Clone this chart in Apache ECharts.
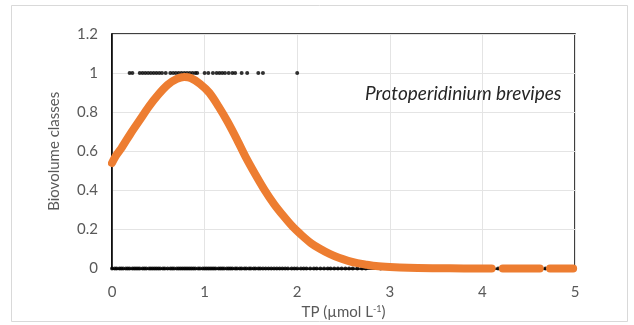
<!DOCTYPE html>
<html>
<head>
<meta charset="utf-8">
<title>Protoperidinium brevipes</title>
<script src="https://cdn.jsdelivr.net/npm/echarts@6/dist/echarts.min.js"></script>
<style>
    html, body { margin: 0; padding: 0; background: #fff; }
    .box { width: 634px; height: 325px; }
</style>
</head>
<body>
<div class="box"></div>
<script>
// observed TP values with biovolume class 1
const presentX = [0.19, 0.22, 0.30, 0.33, 0.36, 0.39, 0.42, 0.45, 0.48, 0.51, 0.54, 0.58,
    0.63, 0.66, 0.69, 0.72, 0.75, 0.78, 0.81, 0.84, 0.87, 0.90, 0.92, 1.00, 1.04,
    1.09, 1.13, 1.16, 1.19, 1.22, 1.26, 1.30, 1.33, 1.40, 1.46, 1.58, 1.63, 2.00];

// observed TP values with biovolume class 0
const absentX = [0, 0.03, 0.05, 0.08, 0.10, 0.12, 0.15, 0.17, 0.19, 0.22, 0.24, 0.26, 0.28,
    0.30, 0.33, 0.35, 0.37, 0.40, 0.42, 0.44, 0.46, 0.48, 0.50, 0.52, 0.55, 0.57, 0.60,
    0.63, 0.65, 0.67, 0.70, 0.72, 0.74, 0.76, 0.78, 0.80, 0.82, 0.84, 0.86, 0.88, 0.90,
    0.93, 0.95, 0.98, 1.00, 1.02, 1.04, 1.06, 1.08, 1.10, 1.12, 1.15, 1.17, 1.19, 1.21,
    1.24, 1.26, 1.28, 1.30, 1.33, 1.35, 1.38, 1.40, 1.43, 1.45, 1.48, 1.50, 1.53, 1.55,
    1.58, 1.60, 1.63, 1.66, 1.69, 1.72, 1.75, 1.78, 1.81, 1.84, 1.87, 1.90, 1.94, 1.97,
    2.00, 2.04, 2.07, 2.10, 2.14, 2.18, 2.21, 2.25, 2.29, 2.33, 2.36, 2.40, 2.44, 2.48,
    2.52, 2.56, 2.60, 2.65, 2.70, 2.74, 2.90, 3.10, 3.40, 3.70, 4.00, 4.17, 4.68, 4.90];

// fitted curve (null = gap between points)
const fitX = [0, 0.04, 0.10, 0.20, 0.30, 0.40, 0.50, 0.60, 0.70, 0.78, 0.85, 0.95, 1.05,
    1.15, 1.25, 1.35, 1.45, 1.55, 1.65, 1.75, 1.85, 1.95, 2.05, 2.15, 2.25, 2.35, 2.45,
    2.55, 2.65, 2.75, 2.85, 3.00, 3.20, 3.50, 3.80, 4.10, null, 4.22, 4.62, null, 4.73, 4.98];
const fitY = [0.54, 0.575, 0.615, 0.69, 0.76, 0.83, 0.89, 0.94, 0.97, 0.98, 0.975, 0.945, 0.90,
    0.83, 0.75, 0.66, 0.565, 0.48, 0.40, 0.33, 0.27, 0.215, 0.17, 0.13, 0.10, 0.075, 0.055,
    0.04, 0.028, 0.02, 0.013, 0.008, 0.004, 0.002, 0.001, 0.0005, null, 0, 0, null, 0, 0];

const xTicks = [0, 1, 2, 3, 4, 5];
const yTicks = [0, 0.2, 0.4, 0.6, 0.8, 1, 1.2];
const speciesName = 'Protoperidinium brevipes';

; (function () {
    const fontFamily = 'Lato, "Open Sans", sans-serif',
        labelColor = '#595959';

    init();

    function init() {
        renderChart();
    }

    function buildObserved() {
        const pts = [];
        absentX.forEach(x => pts.push([x, 0]));
        presentX.forEach(x => pts.push([x, 1]));
        return pts;
    }

    function buildFit() {
        return fitX.map((x, i) => x === null ? [null, null] : [x, fitY[i]]);
    }

    function renderChart() {
        const chartDom = document.getElementsByClassName('box')[0];
        const myChart = echarts.init(chartDom, null, { renderer: 'canvas' });
        const option = {
            animation: false,
            backgroundColor: '#fff',
            textStyle: { fontFamily: fontFamily },
            grid: {
                left: 112,
                right: 59,
                top: 34,
                bottom: 55,
                show: true,
                borderColor: '#000',
                borderWidth: 1.5
            },
            graphic: [
                {
                    type: 'rect',
                    shape: { x: 11.5, y: 5.5, width: 616, height: 316 },
                    style: { fill: 'none', stroke: '#d9d9d9', lineWidth: 1 },
                    silent: true,
                    z: -1
                },
                {
                    type: 'text',
                    left: 365,
                    top: 84,
                    style: {
                        text: speciesName,
                        font: 'italic 19px ' + fontFamily,
                        fill: '#262626'
                    }
                }
            ],
            xAxis: {
                type: 'value',
                min: xTicks[0],
                max: xTicks[xTicks.length - 1],
                interval: 1,
                name: '{a|TP (µmol L}{sup|-1}{a|)}',
                nameLocation: 'middle',
                nameGap: 33,
                nameTextStyle: {
                    rich: {
                        a: { fontSize: 15, color: labelColor, fontFamily: fontFamily },
                        sup: { fontSize: 9, color: labelColor, fontFamily: fontFamily, verticalAlign: 'top', padding: [0, 0, 7, 0] }
                    }
                },
                axisLine: { show: true, lineStyle: { color: '#000', width: 1.5 } },
                axisTick: { show: false },
                axisLabel: { color: labelColor, fontSize: 15, margin: 16 },
                splitLine: { show: true, lineStyle: { color: '#e4e4e4', width: 1 } }
            },
            yAxis: {
                type: 'value',
                min: yTicks[0],
                max: yTicks[yTicks.length - 1],
                interval: 0.2,
                name: 'Biovolume classes',
                nameLocation: 'middle',
                nameGap: 50,
                nameTextStyle: { color: labelColor, fontSize: 15 },
                axisLine: { show: true, lineStyle: { color: '#000', width: 1.5 } },
                axisTick: { show: false },
                axisLabel: { color: labelColor, fontSize: 15, margin: 14 },
                splitLine: { show: true, lineStyle: { color: '#e4e4e4', width: 1 } }
            },
            series: [
                {
                    name: 'observed',
                    type: 'scatter',
                    symbol: 'circle',
                    symbolSize: 4,
                    itemStyle: { color: '#000' },
                    clip: false,
                    data: buildObserved(),
                    z: 2
                },
                {
                    name: 'fitted',
                    type: 'line',
                    smooth: 0.3,
                    showSymbol: false,
                    connectNulls: false,
                    clip: false,
                    lineStyle: { color: '#ED7D31', width: 8, cap: 'round', join: 'round' },
                    data: buildFit(),
                    z: 3
                }
            ]
        };

        myChart.setOption(option);
    }
})()
</script>
</body>
</html>
